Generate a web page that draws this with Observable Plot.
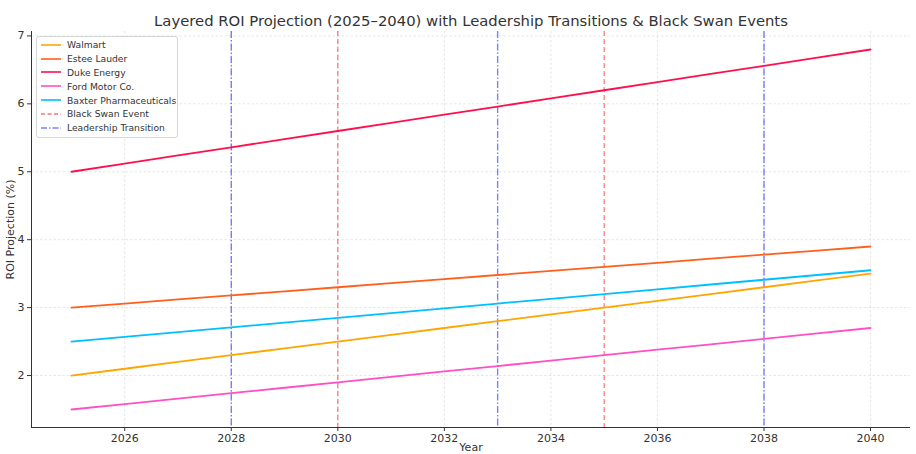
<!DOCTYPE html>
<html>
<head>
<meta charset="utf-8">
<script src="https://cdn.jsdelivr.net/npm/d3@7"></script>
<script src="https://cdn.jsdelivr.net/npm/@observablehq/plot@0.6"></script>
<style>
  html, body { margin: 0; padding: 0; background: #fff; }
  #wrap { position: relative; width: 916px; height: 454px; font-family: "DejaVu Sans", sans-serif; }
  #legend { position: absolute; left: 36px; top: 36px; width: 140px; background: rgba(255,255,255,0.85);
    border: 1px solid #d6d6d6; border-radius: 3px; padding: 1px 0 2px 0; font-size: 9.2px; color: #333; }
  .item { display: flex; align-items: center; height: 13.8px; }
  .item svg { margin-left: 4px; margin-right: 6px; }
</style>
</head>
<body>
<div id="wrap"><div id="chart"></div><div id="legend"></div></div>
<script>
const years = [2025,2026,2027,2028,2029,2030,2031,2032,2033,2034,2035,2036,2037,2038,2039,2040];
const walmart = [2.0,2.1,2.2,2.3,2.4,2.5,2.6,2.7,2.8,2.9,3.0,3.1,3.2,3.3,3.4,3.5];
const esteeLauder = [3.0,3.06,3.12,3.18,3.24,3.30,3.36,3.42,3.48,3.54,3.60,3.66,3.72,3.78,3.84,3.90];
const dukeEnergy = [5.0,5.12,5.24,5.36,5.48,5.60,5.72,5.84,5.96,6.08,6.20,6.32,6.44,6.56,6.68,6.80];
const fordMotor = [1.5,1.58,1.66,1.74,1.82,1.90,1.98,2.06,2.14,2.22,2.30,2.38,2.46,2.54,2.62,2.70];
const baxter = [2.5,2.57,2.64,2.71,2.78,2.85,2.92,2.99,3.06,3.13,3.20,3.27,3.34,3.41,3.48,3.55];
const companies = ["Walmart","Estee Lauder","Duke Energy","Ford Motor Co.","Baxter Pharmaceuticals"];
const colors = ["#FFA500","#FF5F1A","#FF0F4B","#FF4FC4","#00BFFF"];
const blackSwanYears = [2030, 2035];
const leadershipYears = [2028, 2033, 2038];
const xTicks = [2026,2028,2030,2032,2034,2036,2038,2040];
const yTicks = [2,3,4,5,6,7];

const seriesValues = [walmart, esteeLauder, dukeEnergy, fordMotor, baxter];
const rows = [];
companies.forEach((c, i) => years.forEach((y, j) => rows.push({company: c, year: y, roi: seriesValues[i][j]})));

const xDomain = [2024.25, 2040.75];
const yDomain = [1.235, 7.065];

const chart = Plot.plot({
  width: 916, height: 454,
  marginLeft: 31, marginRight: 6, marginTop: 31, marginBottom: 27,
  style: {fontFamily: "DejaVu Sans, sans-serif", fontSize: "11px", color: "#333", background: "#fff"},
  x: {domain: xDomain},
  y: {domain: yDomain},
  color: {domain: companies, range: colors},
  marks: [
    Plot.gridX(xTicks, {stroke: "#b0b0b0", strokeOpacity: 0.45, strokeDasharray: "2.5,2", strokeWidth: 0.7}),
    Plot.gridY(yTicks, {stroke: "#b0b0b0", strokeOpacity: 0.45, strokeDasharray: "2.5,2", strokeWidth: 0.7}),
    Plot.ruleX(blackSwanYears, {stroke: "red", strokeOpacity: 0.55, strokeDasharray: "5,3", strokeWidth: 1.2}),
    Plot.ruleX(leadershipYears, {stroke: "blue", strokeOpacity: 0.5, strokeDasharray: "7,2,1.5,2", strokeWidth: 1.4}),
    Plot.line(rows, {x: "year", y: "roi", z: "company", stroke: "company", strokeWidth: 1.8}),
    Plot.ruleX([xDomain[0]], {stroke: "#333", strokeWidth: 1}),
    Plot.ruleY([yDomain[0]], {stroke: "#333", strokeWidth: 1}),
    Plot.axisX(xTicks, {tickSize: 4, tickPadding: 3, tickFormat: d => String(d), label: "Year", labelAnchor: "center", labelArrow: "none", labelOffset: 23}),
    Plot.axisY(yTicks, {tickSize: 4, tickPadding: 3, tickFormat: d => String(d), label: "ROI Projection (%)", labelAnchor: "center", labelArrow: "none", labelOffset: 25}),
    Plot.text(["Layered ROI Projection (2025–2040) with Leadership Transitions & Black Swan Events"], {frameAnchor: "top", dy: -16, fontSize: 14.8, fill: "#333", textAnchor: "middle"})
  ]
});
document.getElementById("chart").appendChild(chart);

const legend = document.getElementById("legend");
const entries = companies.map((c, i) => ({label: c, color: colors[i], dash: null, opacity: 1}))
  .concat([{label: "Black Swan Event", color: "red", dash: "4,2.5", opacity: 0.55},
           {label: "Leadership Transition", color: "blue", dash: "6,2,1.5,2", opacity: 0.5}]);
entries.forEach(e => {
  const div = document.createElement("div");
  div.className = "item";
  div.innerHTML = `<svg width="20" height="6"><line x1="0" y1="3" x2="20" y2="3" stroke="${e.color}" stroke-width="1.6" stroke-opacity="${e.opacity}" ${e.dash ? `stroke-dasharray="${e.dash}"` : ""}/></svg><span>${e.label}</span>`;
  legend.appendChild(div);
});
</script>
</body>
</html>
